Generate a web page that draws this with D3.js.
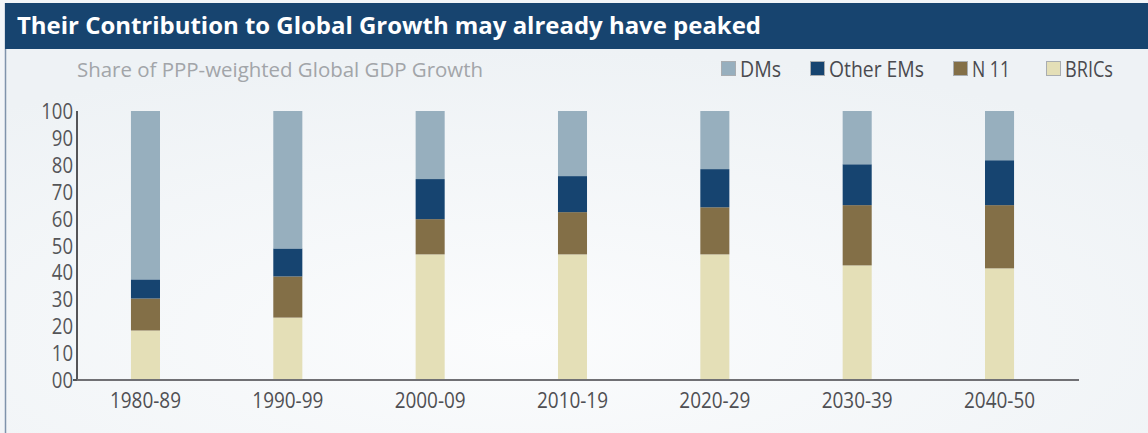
<!DOCTYPE html>
<html>
<head>
<meta charset="utf-8">
<script src="https://cdn.jsdelivr.net/npm/d3@7"></script>
<style>
  html, body { margin: 0; padding: 0; background: #f3f5f8; }
  svg { display: block; }
  text { font-family: "Open Sans", "DejaVu Sans", sans-serif; }
</style>
</head>
<body>
<div id="chart"></div>
<script>
// periods on the x axis
const periods = ['1980-89', '1990-99', '2000-09', '2010-19', '2020-29', '2030-39', '2040-50'];

// share of PPP-weighted global GDP growth (%)
const brics    = [18.4, 23.2, 46.7, 46.7, 46.7, 42.6, 41.5];
const n11      = [11.9, 15.3, 13.1, 15.7, 17.5, 22.4, 23.5];
const otherEMs = [7.1, 10.4, 14.9, 13.4, 14.2, 15.2, 16.7];
const dms      = [62.6, 51.1, 25.3, 24.2, 21.6, 19.8, 18.3];

const yTicks = [0, 10, 20, 30, 40, 50, 60, 70, 80, 90, 100];

const seriesKeys = ['BRICs', 'N 11', 'Other EMs', 'DMs'];
const colors = {
  'BRICs': '#e4dfb7',
  'N 11': '#836f47',
  'Other EMs': '#164470',
  'DMs': '#97afbe'
};

const W = 1148, H = 433;
const labelFont = '"Liberation Sans Narrow", "Open Sans", sans-serif';

const rows = periods.map((p, i) => ({
  period: p,
  'BRICs': brics[i],
  'N 11': n11[i],
  'Other EMs': otherEMs[i],
  'DMs': dms[i]
}));

const svg = d3.select('#chart').append('svg')
  .attr('width', W).attr('height', H);

// background with a soft gradient
const defs = svg.append('defs');
const grad = defs.append('radialGradient').attr('id', 'bg')
  .attr('cx', '45%').attr('cy', '75%').attr('r', '75%');
grad.append('stop').attr('offset', '0%').attr('stop-color', '#fbfcfd');
grad.append('stop').attr('offset', '100%').attr('stop-color', '#eef2f5');

svg.append('rect').attr('x', 0).attr('y', 0).attr('width', W).attr('height', H)
  .attr('fill', '#f2f5f8');
svg.append('rect').attr('x', 6).attr('y', 49).attr('width', W - 6).attr('height', H - 49)
  .attr('fill', 'url(#bg)');
// left border of the panel
svg.append('line').attr('x1', 5.5).attr('x2', 5.5).attr('y1', 3).attr('y2', H)
  .attr('stroke', '#7f93ab').attr('stroke-width', 1.5);

// title bar
svg.append('rect').attr('x', 5).attr('y', 3).attr('width', W - 5).attr('height', 46)
  .attr('fill', '#17446f');
svg.append('text')
  .attr('x', 17).attr('y', 34)
  .attr('fill', '#ffffff')
  .attr('font-size', 24).attr('font-weight', 700)
  .attr('textLength', 744).attr('lengthAdjust', 'spacingAndGlyphs')
  .text('Their Contribution to Global Growth may already have peaked');

// subtitle
svg.append('text')
  .attr('x', 77).attr('y', 77)
  .attr('fill', '#a2a5a9')
  .attr('font-size', 20).attr('font-family', labelFont)
  .attr('textLength', 406).attr('lengthAdjust', 'spacingAndGlyphs')
  .text('Share of PPP-weighted Global GDP Growth');

// legend
const legendItems = [
  { key: 'DMs', x: 721, w: 41 },
  { key: 'Other EMs', x: 810, w: 95 },
  { key: 'N 11', x: 953, w: 38 },
  { key: 'BRICs', x: 1046, w: 48 }
];
const lg = svg.append('g').attr('class', 'legend');
legendItems.forEach(d => {
  lg.append('rect')
    .attr('x', d.x + 0.5).attr('y', 61.5).attr('width', 14).attr('height', 14)
    .attr('fill', colors[d.key])
    .attr('stroke', '#a9adb1').attr('stroke-width', 1);
  lg.append('text')
    .attr('x', d.x + 19).attr('y', 77)
    .attr('fill', '#4a4a4f')
    .attr('font-size', 22).attr('font-family', labelFont)
    .attr('textLength', d.w).attr('lengthAdjust', 'spacingAndGlyphs')
    .text(d.key);
});

// scales
const x = d3.scaleBand().domain(periods).range([74.3, 1070.7]).paddingInner(0.796).paddingOuter(0.398);
const y = d3.scaleLinear().domain([0, 100]).range([380, 111]);

const stack = d3.stack().keys(seriesKeys);
const layers = stack(rows);

svg.append('g').selectAll('g').data(layers).enter()
  .append('g').attr('fill', d => colors[d.key])
  .selectAll('rect').data(d => d).enter()
  .append('rect')
  .attr('x', d => x(d.data.period))
  .attr('width', x.bandwidth())
  .attr('y', d => y(d[1]))
  .attr('height', d => y(d[0]) - y(d[1]));

// y axis
const yAxis = svg.append('g').attr('transform', 'translate(77,0)')
  .call(d3.axisLeft(y).tickValues(yTicks).tickSize(0).tickPadding(4)
    .tickFormat(d => d === 0 ? '00' : d));
yAxis.select('.domain').remove();
yAxis.selectAll('text')
  .attr('fill', '#555558').attr('font-size', 21)
  .attr('font-family', labelFont)
  .attr('dy', '0.36em')
  .attr('textLength', function () { return this.textContent.length * 10.6; })
  .attr('lengthAdjust', 'spacingAndGlyphs');
svg.append('line').attr('x1', 77).attr('x2', 77).attr('y1', 111).attr('y2', 381)
  .attr('stroke', '#555558').attr('stroke-width', 2);
svg.append('line').attr('x1', 73).attr('x2', 77).attr('y1', 380).attr('y2', 380)
  .attr('stroke', '#555558').attr('stroke-width', 2);

// x axis
const xAxis = svg.append('g').attr('transform', 'translate(0,380)')
  .call(d3.axisBottom(x).tickSize(0).tickPadding(12));
xAxis.select('.domain').remove();
xAxis.selectAll('text')
  .attr('fill', '#4f4f53').attr('font-size', 22)
  .attr('font-family', labelFont)
  .attr('textLength', 71).attr('lengthAdjust', 'spacingAndGlyphs');
svg.append('line').attr('x1', 77).attr('x2', 1079).attr('y1', 380).attr('y2', 380)
  .attr('stroke', '#707074').attr('stroke-width', 2);
</script>
</body>
</html>
